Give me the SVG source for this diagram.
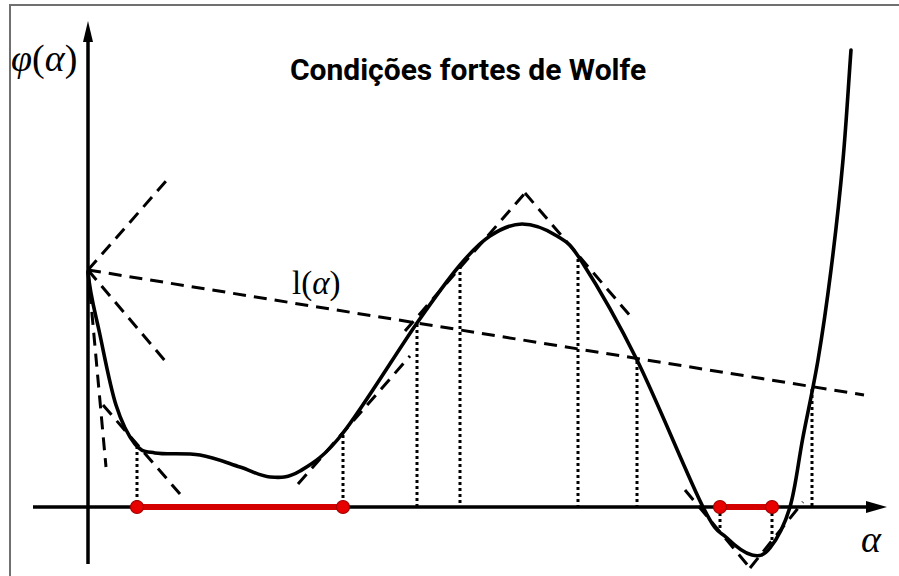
<svg xmlns="http://www.w3.org/2000/svg" width="899" height="576" viewBox="0 0 899 576">
<style>
.axis{stroke:#000;stroke-width:3.5;fill:none}
.curve{stroke:#000;stroke-width:3.6;fill:none;stroke-linecap:round}
.dash{stroke:#000;stroke-width:3;fill:none;stroke-dasharray:13,8}
.dot{stroke:#000;stroke-width:3;fill:none;stroke-dasharray:3,3}
.seg{stroke:#d40000;stroke-width:6;fill:none}
.end{fill:#e80000;stroke:#a00000;stroke-width:1.2}
.math{font-family:"Liberation Serif","DejaVu Serif",serif;fill:#000}
.title{font-family:Roboto,"Liberation Sans",sans-serif;font-weight:bold;font-size:30px;fill:#000}
</style>
<rect width="899" height="576" fill="#fff"/>
<path d="M10,576 V5 H899" fill="none" stroke="#707070" stroke-width="2"/>
<g id="axes">
<line class="axis" x1="88" y1="564" x2="88" y2="40"/>
<polygon points="88,21 83,42 93,42" fill="#000"/>
<line class="axis" x1="33" y1="507" x2="868" y2="507"/>
<polygon points="887,507 866,501 866,513" fill="#000"/>
</g>
<g id="connectors">
<line class="dash" x1="88" y1="270" x2="864" y2="395"/>
<line class="dash" x1="88" y1="270" x2="167" y2="180"/>
<line class="dash" x1="88" y1="270" x2="166" y2="362"/>
<line class="dash" x1="88" y1="270" x2="106" y2="467"/>
<line class="dash" x1="103" y1="405" x2="180" y2="494"/>
<line class="dash" x1="298" y1="484" x2="410" y2="356"/>
<line class="dash" x1="405" y1="331" x2="525" y2="193"/>
<line class="dash" x1="525" y1="193" x2="632" y2="318"/>
<line class="dash" x1="685" y1="490" x2="750" y2="568"/>
<line class="dash" x1="750" y1="568" x2="803" y2="502"/>
<line class="dot" x1="137" y1="446" x2="137" y2="507"/>
<line class="dot" x1="343" y1="435" x2="343" y2="507"/>
<line class="dot" x1="417" y1="324" x2="417" y2="507"/>
<line class="dot" x1="460" y1="266" x2="460" y2="507"/>
<line class="dot" x1="578" y1="259" x2="578" y2="507"/>
<line class="dot" x1="637" y1="361" x2="637" y2="507"/>
<line class="dot" x1="720" y1="507" x2="720" y2="530"/>
<line class="dot" x1="772" y1="507" x2="772" y2="540"/>
<line class="dot" x1="812" y1="389" x2="812" y2="507"/>
</g>
<g id="curve">
<path class="curve" d="M88,272 C90,295 95.3,312.8 100,335 S110.2,386.8 116,405 S128.5,436 135,444 S144.2,451.2 155,453 S185.8,452.7 200,455 S228.3,463.3 240,467 S260,476.3 270,477 S287.8,478.3 300,471 S323.5,457.7 343,433 S397.5,351 417,323 S447.8,279.5 460,265 S479.7,242.8 490,236 S510.8,224 522,224 S547,229.7 557,236 S568.7,241.3 582,262 S616.8,319.2 637,360 S688,477.3 703,507 S718.8,530 727,538 S744.8,553.3 752,555 S763.7,556 770,548 S784.5,525.5 790,507 S798.3,461.5 803,437 S813.3,387.8 818,360 S826.8,303.3 831,270 S839.7,196.7 843,160 S848.3,86.7 851,50"/>
</g>
<g id="interval1">
<line class="seg" x1="137" y1="507" x2="343" y2="507"/>
<circle class="end" cx="137" cy="507" r="6.5"/>
<circle class="end" cx="343" cy="507" r="6.5"/>
</g>
<g id="interval2">
<line class="seg" x1="720" y1="507" x2="772" y2="507"/>
<circle class="end" cx="720" cy="507" r="6.5"/>
<circle class="end" cx="772" cy="507" r="6.5"/>
</g>
<g id="labels">
<text class="title" x="468" y="80" text-anchor="middle">Condições fortes de Wolfe</text>
<text class="math" x="11" y="71" font-size="38"><tspan font-style="italic">φ</tspan>(<tspan font-style="italic">α</tspan>)</text>
<text class="math" x="292" y="294" font-size="33">l(<tspan font-style="italic">α</tspan>)</text>
<text class="math" x="861" y="552" font-size="38" font-style="italic">α</text>
</g>
</svg>
